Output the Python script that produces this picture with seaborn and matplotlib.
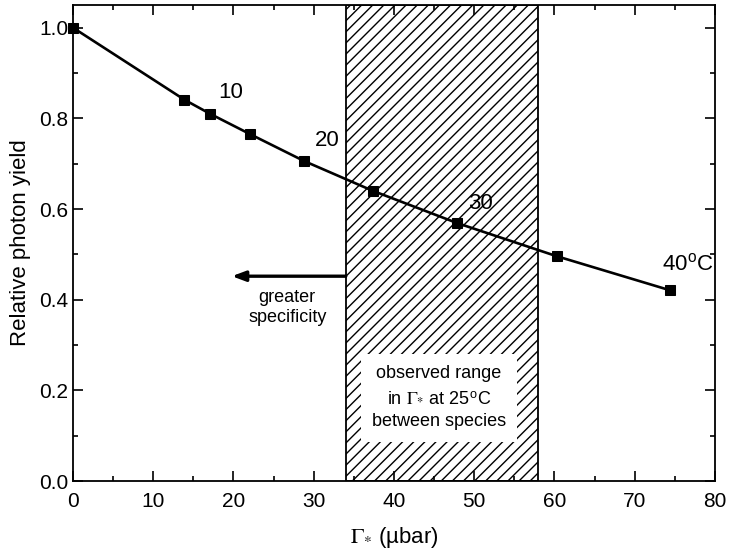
import matplotlib.pyplot as plt
import matplotlib.patches as mpatches
from matplotlib.ticker import MultipleLocator
import pandas as pd
import seaborn as sns

# Gamma* (ubar) vs relative photon yield, one point per temperature step
gamma_star = [0.0, 13.9, 17.1, 22.1, 28.8, 37.4, 47.9, 60.3, 74.4]
photon_yield = [1.0, 0.841, 0.810, 0.765, 0.706, 0.640, 0.569, 0.496, 0.421]

# temperature labels next to the curve
temp_labels = ['10', '20', '30', '40$^{\\mathregular{o}}$C']
temp_label_x = [19.6, 31.7, 50.8, 76.6]
temp_label_y = [0.857, 0.752, 0.612, 0.478]

# observed range of Gamma* at 25 C between species
range_lo, range_hi = 34.0, 58.0

sns.set_style('ticks')
plt.rcParams['font.family'] = ['Liberation Sans', 'DejaVu Sans']
plt.rcParams['mathtext.fontset'] = 'stix'
plt.rcParams['hatch.linewidth'] = 1.0
for key in ['text.color', 'axes.labelcolor', 'xtick.color', 'ytick.color',
            'axes.edgecolor']:
    plt.rcParams[key] = 'black'

df = pd.DataFrame({'gamma': gamma_star, 'yield': photon_yield})

fig = plt.figure(figsize=(7.37, 5.55), dpi=100)
ax = fig.add_axes([0.099, 0.133, 0.871, 0.858])

# Hatched band for the observed range
ax.add_patch(mpatches.Rectangle(
    (range_lo, 0), range_hi - range_lo, 1.05, facecolor='none',
    edgecolor='black', hatch='///', linewidth=1.3, zorder=1))

sns.lineplot(data=df, x='gamma', y='yield', color='black', linewidth=1.9,
             marker='s', markersize=7, markeredgecolor='black', ax=ax,
             zorder=3, clip_on=False)

for lab, tx, ty in zip(temp_labels, temp_label_x, temp_label_y):
    ax.text(tx, ty, lab, fontsize=16, ha='center', va='center', zorder=4)

# Arrow: greater specificity
ax.annotate('', xy=(19.8, 0.452), xytext=(range_lo, 0.452),
            arrowprops=dict(arrowstyle='-|>,head_length=0.8,head_width=0.3',
                            color='black', lw=2.4, shrinkA=0, shrinkB=0))
ax.text(26.7, 0.383, 'greater\nspecificity', fontsize=13, ha='center',
        va='center', linespacing=1.2)

ax.text(45.6, 0.184, 'observed range\nin $\\Gamma_{*}$ at 25$^{\\mathregular{o}}$C\nbetween species',
        fontsize=13, ha='center', va='center', linespacing=1.55, zorder=4,
        bbox=dict(facecolor='white', edgecolor='none', pad=8))

ax.set_xlim(0, 80)
ax.set_ylim(0, 1.05)
ax.xaxis.set_major_locator(MultipleLocator(10))
ax.xaxis.set_minor_locator(MultipleLocator(5))
ax.yaxis.set_major_locator(MultipleLocator(0.2))
ax.yaxis.set_minor_locator(MultipleLocator(0.1))
ax.tick_params(which='both', direction='in', top=True, right=True,
               width=1.2, labelsize=15)
ax.tick_params(which='major', length=7)
ax.tick_params(which='minor', length=3.6)
ax.tick_params(axis='x', pad=8)
for s in ax.spines.values():
    s.set_linewidth(1.3)

ax.set_xlabel('$\\Gamma_{*}$ (µbar)', fontsize=16, labelpad=10)
ax.set_ylabel('Relative photon yield', fontsize=16, labelpad=6)

fig.savefig('out.png', dpi=100)
